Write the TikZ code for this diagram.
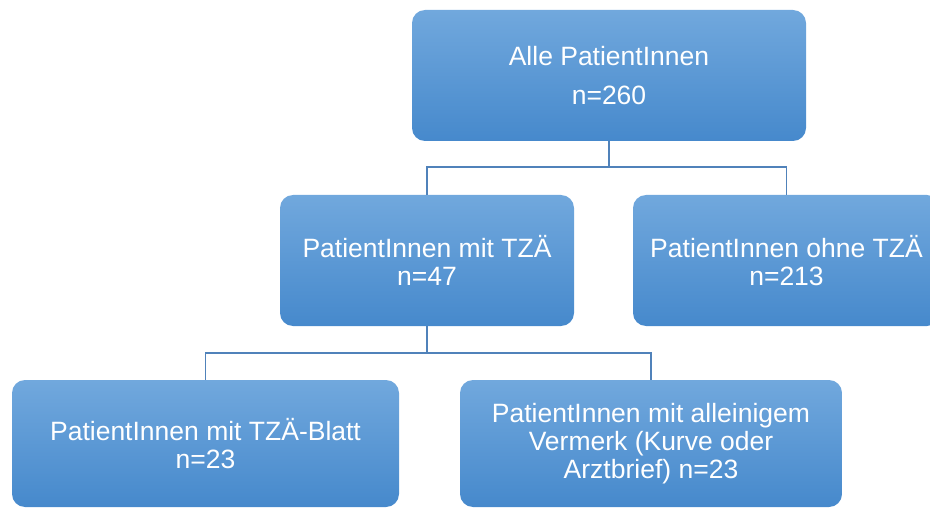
\documentclass[tikz,border=0pt]{standalone}
\usepackage{fontspec}
\setmainfont{Liberation Sans}
\definecolor{boxtop}{RGB}{113,168,221}
\definecolor{boxbot}{RGB}{70,137,204}
\definecolor{conn}{RGB}{80,130,186}
\tikzset{
  box/.style={rounded corners=13pt, top color=boxtop, bottom color=boxbot, draw=none,
    text=white, align=center, inner sep=0pt,
    font=\fontsize{26.5}{28}\selectfont},
  link/.style={draw=conn, line width=1.1pt}
}
\begin{document}
\begin{tikzpicture}[x=1pt,y=-1pt]
\useasboundingbox (0,0) rectangle (930,508);
\clip (0,0) rectangle (930,508);
\node[box, minimum width=394pt, minimum height=131pt] (top) at (609,75.5)
  {Alle PatientInnen\\[11pt]n=260};
\node[box, minimum width=294pt, minimum height=131pt] (ml) at (427,260.5)
  {PatientInnen mit TZÄ\\n=47};
\node[box, minimum width=307pt, minimum height=131pt] (mr) at (786.5,260.5)
  {PatientInnen ohne TZÄ\\n=213};
\node[box, minimum width=387pt, minimum height=127pt] (bl) at (205.5,443.5)
  {PatientInnen mit TZÄ-Blatt\\n=23};
\node[box, minimum width=382pt, minimum height=127pt] (br) at (651,443.5)
  {PatientInnen mit alleinigem\\Vermerk (Kurve oder\\Arztbrief) n=23};
\coordinate (j1) at (609,167);
\coordinate (j2) at (427,353);
\draw[link] (top.south) -- (j1);
\draw[link] (j1) -| (ml.north);
\draw[link] (j1) -| (mr.north);
\draw[link] (ml.south) -- (j2);
\draw[link] (j2) -| (bl.north);
\draw[link] (j2) -| (br.north);
\end{tikzpicture}
\end{document}
